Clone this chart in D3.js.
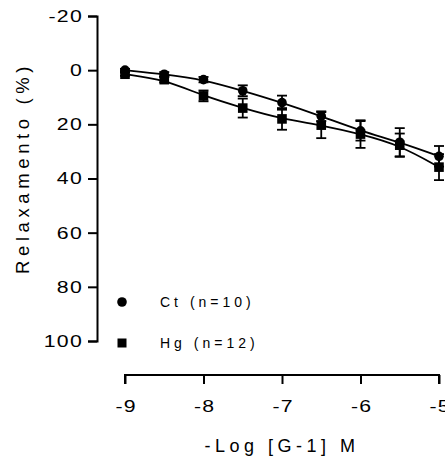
<!DOCTYPE html>
<html>
<head>
<meta charset="utf-8">
<script src="https://cdn.jsdelivr.net/npm/d3@7"></script>
<style>
  body { margin: 0; background: #fff; }
  text { font-family: "Liberation Sans", Arial, sans-serif; fill: #000; }
</style>
</head>
<body>
<div id="chart"></div>
<script>
// log concentration
var doses = [-9, -8.5, -8, -7.5, -7, -6.5, -6, -5.5, -5];
// relaxation means (%) and SEM
var ctMean = [0, 1.5, 3.5, 7.6, 12, 17, 22.4, 26.6, 31.8];
var ctErr  = [0.5, 0.8, 1, 2, 2.6, 1.8, 3.6, 5.2, 3.8];
var hgMean = [1.5, 3.5, 9.5, 14, 18, 20.3, 23.6, 27.7, 35.8];
var hgErr  = [0.6, 1, 2, 3.5, 4, 4.8, 5.1, 4.3, 4.8];
var yTicks = [-20, 0, 20, 40, 60, 80, 100];
var xTicks = [-9, -8, -7, -6, -5];
var legendLabels = ["Ct (n=10)", "Hg (n=12)"];

var W = 445, H = 457;
var sx = 1.25; // tick labels are drawn a bit wide in the original
var svg = d3.select("#chart").append("svg")
  .attr("width", W).attr("height", H);

var x = d3.scaleLinear().domain([-9, -5]).range([125, 439]);
var y = d3.scaleLinear().domain([-20, 100]).range([16, 341]);

// y axis
var yAxis = svg.append("g")
  .attr("transform", "translate(97,0)")
  .call(d3.axisLeft(y).tickValues(yTicks).tickSize(9).tickPadding(5)
    .tickFormat(function(d) { return String(d); }));
yAxis.select(".domain").attr("stroke-width", 2);
yAxis.selectAll(".tick line").attr("stroke-width", 2);
yAxis.selectAll("text")
  .attr("x", -14 / sx)
  .attr("transform", "scale(" + sx + ",1)")
  .style("font-size", "17px").style("letter-spacing", "1px")
  .attr("font-family", null);

// x axis (offset below the plot)
var xAxis = svg.append("g")
  .attr("transform", "translate(0,375)")
  .call(d3.axisBottom(x).tickValues(xTicks).tickSize(9).tickPadding(16)
    .tickFormat(function(d) { return String(d); }));
xAxis.select(".domain").attr("stroke-width", 2)
  .attr("d", "M" + x(-9) + ",9V0H" + x(-5) + "V9");
xAxis.selectAll(".tick line").attr("stroke-width", 2);
xAxis.selectAll("text")
  .attr("transform", "scale(" + sx + ",1)")
  .attr("dx", "0.5")
  .style("font-size", "17px").style("letter-spacing", "1px")
  .attr("font-family", null);

// titles
svg.append("text")
  .attr("transform", "translate(29,168) rotate(-90)")
  .attr("text-anchor", "middle")
  .style("font-size", "18.5px").style("letter-spacing", "4.6px")
  .text("Relaxamento (%)");
svg.append("text")
  .attr("x", 282).attr("y", 452)
  .attr("text-anchor", "middle")
  .style("font-size", "18px").style("letter-spacing", "4.5px")
  .text("-Log [G-1] M");

var line = d3.line()
  .x(function(d) { return x(d[0]); })
  .y(function(d) { return y(d[1]); })
  .curve(d3.curveBasis);

function drawSeries(mean, err, shape) {
  var pts = doses.map(function(d, i) { return [d, mean[i], err[i]]; });
  svg.append("path").datum(pts)
    .attr("d", line)
    .attr("fill", "none").attr("stroke", "#000").attr("stroke-width", 1.8);
  var g = svg.append("g");
  var eb = g.selectAll(".eb").data(pts).enter().append("g");
  eb.append("line")
    .attr("x1", function(d) { return x(d[0]); })
    .attr("x2", function(d) { return x(d[0]); })
    .attr("y1", function(d) { return y(d[1] - d[2]); })
    .attr("y2", function(d) { return y(d[1] + d[2]); })
    .attr("stroke", "#000").attr("stroke-width", 1.8);
  [-1, 1].forEach(function(s) {
    eb.append("line")
      .attr("x1", function(d) { return x(d[0]) - 5; })
      .attr("x2", function(d) { return x(d[0]) + 5; })
      .attr("y1", function(d) { return y(d[1] + s * d[2]); })
      .attr("y2", function(d) { return y(d[1] + s * d[2]); })
      .attr("stroke", "#000").attr("stroke-width", 1.8);
  });
  if (shape === "circle") {
    g.selectAll("circle").data(pts).enter().append("circle")
      .attr("cx", function(d) { return x(d[0]); })
      .attr("cy", function(d) { return y(d[1]); })
      .attr("r", 4.8).attr("fill", "#000");
  } else {
    g.selectAll("rect").data(pts).enter().append("rect")
      .attr("x", function(d) { return x(d[0]) - 4.8; })
      .attr("y", function(d) { return y(d[1]) - 4.8; })
      .attr("width", 9.6).attr("height", 9.6).attr("fill", "#000");
  }
}

drawSeries(hgMean, hgErr, "square");
drawSeries(ctMean, ctErr, "circle");

// legend
svg.append("circle").attr("cx", 122).attr("cy", 302).attr("r", 4.8).attr("fill", "#000");
svg.append("rect").attr("x", 117.5).attr("y", 338.5).attr("width", 9).attr("height", 9).attr("fill", "#000");
svg.append("text").attr("x", 160).attr("y", 307)
  .style("font-size", "14px").style("letter-spacing", "4px").text(legendLabels[0]);
svg.append("text").attr("x", 160).attr("y", 348)
  .style("font-size", "14px").style("letter-spacing", "4px").text(legendLabels[1]);
</script>
</body>
</html>
